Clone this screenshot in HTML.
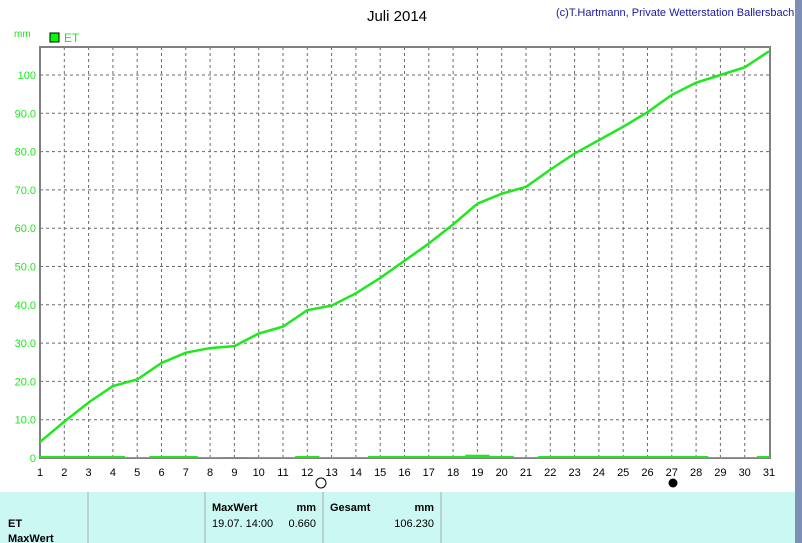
<!DOCTYPE html>
<html><head><meta charset="utf-8"><style>
body{margin:0;width:802px;height:543px;overflow:hidden;background:#fff;font-family:"Liberation Sans",sans-serif}
svg{display:block}
</style></head><body>
<svg width="802" height="543">
<text x="397" y="21" font-size="15" text-anchor="middle">Juli 2014</text>
<text x="556" y="16" font-size="11" fill="#1a1aa0">(c)T.Hartmann, Private Wetterstation Ballersbach</text>
<rect x="795" y="0" width="7" height="543" fill="#7d8fb4"/>
<text x="14" y="37" font-size="10" fill="#1ee81e">mm</text>
<rect x="50" y="33" width="9" height="9" fill="#00ff00" stroke="#000"/>
<text x="64" y="42" font-size="12" fill="#1ee81e">ET</text>
<g id="grid"></g>
<rect x="40" y="47" width="730" height="411" fill="none" stroke="#808080" stroke-width="2"/>
<g id="marks"></g>
<circle cx="321" cy="483" r="5" fill="#fff" stroke="#000"/>
<circle cx="673" cy="483" r="4.5" fill="#000"/>
<rect x="0" y="492" width="795" height="51" fill="#ccf8f4"/>
<g stroke="#aaa"><line x1="88" y1="492" x2="88" y2="543"/><line x1="205" y1="492" x2="205" y2="543"/><line x1="323" y1="492" x2="323" y2="543"/><line x1="441" y1="492" x2="441" y2="543"/></g>
<g font-size="11" font-weight="bold">
<text x="8" y="527">ET</text>
<text x="8" y="542">MaxWert</text>
<text x="212" y="511">MaxWert</text>
<text x="316" y="511" text-anchor="end">mm</text>
<text x="330" y="511">Gesamt</text>
<text x="434" y="511" text-anchor="end">mm</text>
</g>
<g font-size="11">
<text x="212" y="527">19.07.  14:00</text>
<text x="316" y="527" text-anchor="end">0.660</text>
<text x="434" y="527" text-anchor="end">106.230</text>
</g>
</svg>
<script>
const days=[1,2,3,4,5,6,7,8,9,10,11,12,13,14,15,16,17,18,19,20,21,22,23,24,25,26,27,28,29,30,31];
const cumulative=[4.2,9.5,14.5,18.8,20.5,24.8,27.5,28.7,29.2,32.5,34.3,38.6,39.8,43,47,51.5,56,61,66.4,69,70.8,75.3,79.5,83,86.5,90.3,94.8,98,100,102,106.2];
const daily=[0.4,0.4,0.4,0.4,0.2,0.4,0.4,0.2,0.1,0.2,0.2,0.4,0.2,0.2,0.4,0.4,0.4,0.4,0.66,0.4,0.2,0.4,0.4,0.4,0.4,0.4,0.4,0.4,0.2,0.2,0.4];
const yTicks=[0,10,20,30,40,50,60,70,80,90,100];
const yLabels=["0","10.0","20.0","30.0","40.0","50.0","60.0","70.0","80.0","90.0","100"];
const NS="http://www.w3.org/2000/svg";
const x=d=>40+(d-1)*(729/30);
const y=v=>458-v*3.83;
const dailyScale=1.3;
const grid=document.getElementById('grid'),marks=document.getElementById('marks');
function mk(t,a,p){const e=document.createElementNS(NS,t);for(const k in a)e.setAttribute(k,a[k]);p.appendChild(e);return e;}
yTicks.forEach((v,i)=>{
  if(v>0){const l=mk('line',{x1:40,x2:770,y1:y(v),y2:y(v),stroke:'#6a6a6a','stroke-dasharray':'3,3'},grid);
  
  }
  const t=mk('text',{x:36,y:y(v)+4,'font-size':11,fill:'#1ee81e','text-anchor':'end'},grid);
  t.textContent=yLabels[i];
  
  
});
days.forEach(d=>{
  if(d>1&&d<31){const l=mk('line',{x1:x(d),x2:x(d),y1:47,y2:458,stroke:'#6a6a6a','stroke-dasharray':'3,3'},grid);
  
  }
  const t=mk('text',{x:x(d),y:476,'font-size':11,'text-anchor':'middle'},grid);
  t.textContent=d;
  
  
});
daily.forEach((v,i)=>{
  const d=days[i];const x0=Math.max(40,x(d-0.5)),x1=Math.min(770,x(d+0.5));
  const h=(458-y(v))*dailyScale;
  const r=mk('rect',{x:x0,y:458-h,width:x1-x0,height:h,fill:'#1ee81e'},marks);
  
  
});
const pts=days.map((d,i)=>x(d)+','+y(cumulative[i])).join(' ');
const pl=mk('polyline',{points:pts,fill:'none',stroke:'#1ee81e','stroke-width':2.5},marks);


</script>
</body></html>
